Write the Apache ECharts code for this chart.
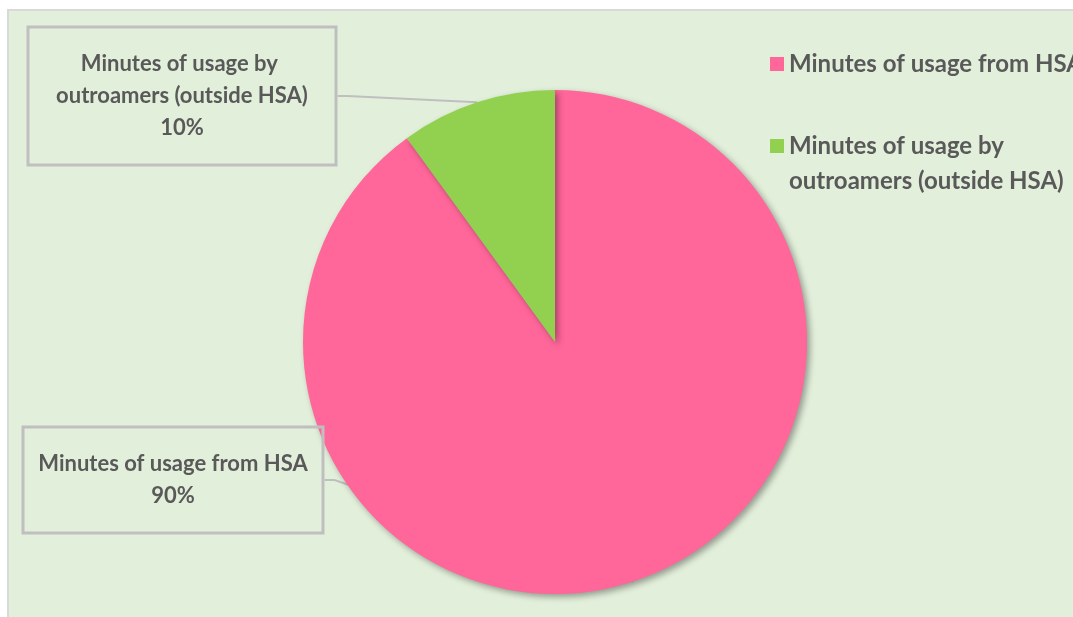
<!DOCTYPE html>
<html>
<head>
<meta charset="utf-8">
<script src="https://cdn.jsdelivr.net/npm/echarts@6/dist/echarts.min.js"></script>
<style>
  html, body { margin: 0; padding: 0; background: #ffffff; }
  #chart { width: 1073px; height: 617px; }
</style>
</head>
<body>
<div id="chart"></div>
<script>
// ---- data ----
const categories = ['Minutes of usage from HSA', 'Minutes of usage by outroamers (outside HSA)'];
const values = [90, 10];
const colors = ['#ff6699', '#92d050'];

// label box positions and paddings (style only)
const labelCenters = [[173, 480], [182, 96]];
const labelPads = [[21, 10], [21, 14]];

const chart = echarts.init(document.getElementById('chart'), null, { renderer: 'canvas' });
const FONT = 'Lato, "Open Sans", sans-serif';
const TXT = '#595959';

const option = {
  backgroundColor: '#ffffff',
  animation: false,
  graphic: [{
    type: 'rect',
    z: -10,
    silent: true,
    shape: { x: 8, y: 10, width: 1100, height: 640 },
    style: { fill: '#e2efda', stroke: '#d9d9d9', lineWidth: 2 }
  }],
  legend: [{
    orient: 'vertical',
    left: 770,
    top: 46.5,
    padding: 0,
    data: [categories[0]],
    icon: 'rect',
    itemWidth: 14,
    itemHeight: 14,
    textStyle: { fontFamily: FONT, fontWeight: 'bold', fontSize: 24, color: TXT, lineHeight: 35 }
  }, {
    orient: 'vertical',
    left: 770,
    top: 128.5,
    padding: 0,
    data: [categories[1]],
    icon: 'path://M0,0H14V14H0Z M0,49H0.01V49.01H0Z',
    itemWidth: 14,
    itemHeight: 49,
    textStyle: { fontFamily: FONT, fontWeight: 'bold', fontSize: 24, color: TXT, lineHeight: 35,
                 width: 290, overflow: 'break' }
  }],
  series: [{
    type: 'pie',
    center: [555, 342],
    radius: 252,
    startAngle: 90,
    clockwise: true,
    data: categories.map((c, i) => ({
      name: c, value: values[i],
      itemStyle: { color: colors[i] },
      label: { padding: labelPads[i] }
    })),
    itemStyle: {
      shadowBlur: 6, shadowOffsetX: 3, shadowOffsetY: 3, shadowColor: 'rgba(0,0,0,0.35)'
    },
    label: {
      show: true,
      formatter: '{b}\n{d}%',
      fontFamily: FONT,
      fontWeight: 'bold',
      fontSize: 22,
      color: TXT,
      lineHeight: 32,
      width: 280,
      overflow: 'break',
      align: 'center',
      padding: [21, 14],
      borderColor: '#bfbfbf',
      borderWidth: 1.5,
      backgroundColor: 'transparent'
    },
    labelLine: {
      show: true,
      length: 10,
      length2: 10,
      lineStyle: { color: '#bfbfbf', width: 2 }
    },
    labelLayout: function (params) {
      const c = labelCenters[params.dataIndex];
      return { x: c[0], y: c[1], align: 'center', verticalAlign: 'middle' };
    }
  }]
};
chart.setOption(option);
</script>
</body>
</html>
